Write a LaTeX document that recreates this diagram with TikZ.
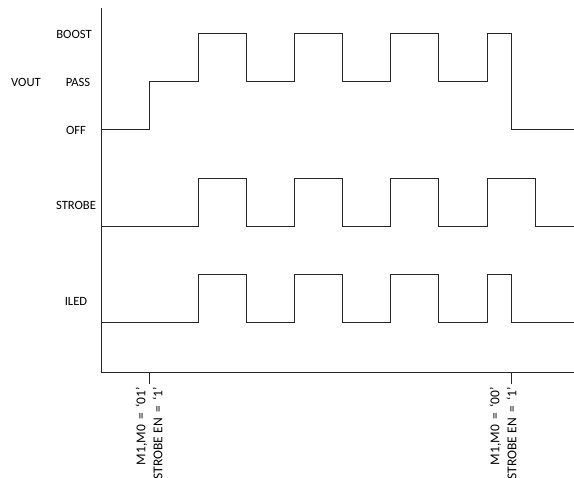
\documentclass[tikz,border=0pt]{standalone}
\usepackage{fontspec}
\setmainfont{Carlito}
\begin{document}
\begin{tikzpicture}[x=1pt,y=-1pt,
  lbl/.style={font=\fontsize{12.6}{14}\selectfont, inner sep=0pt},
  rlbl/.style={font=\fontsize{13.5}{17}\selectfont, inner sep=0pt, rotate=90, anchor=east, align=right},
  wave/.style={line width=1pt, black!85},
  axis/.style={line width=1pt, black!85}]
\useasboundingbox (0,0) rectangle (574,478);
% axes
\coordinate (top) at (101,8);
\coordinate (org) at (101,373);
\coordinate (xend) at (574,373);
\draw[axis] (top) -- (org) -- (xend);
\coordinate (t1a) at (149,373); \coordinate (t1b) at (149,384);
\coordinate (t2a) at (511,373); \coordinate (t2b) at (511,384);
\draw[axis] (t1a) -- (t1b);
\draw[axis] (t2a) -- (t2b);
% labels
\node[lbl] (vout) at (26,82) {VOUT};
\node[lbl] (boost) at (74,34) {BOOST};
\node[lbl] (pass) at (78,82) {PASS};
\node[lbl] (off) at (76,130) {OFF};
\node[lbl] (strobe) at (76,205) {STROBE};
\node[lbl] (iled) at (76,301) {ILED};
\node[rlbl] (ev1) at (149,387) {M1,M0 \,=\, ‘01’\\STROBE EN \,=\, ‘1’};
\node[rlbl] (ev2) at (503,387) {M1,M0 \,=\, ‘00’\\STROBE EN \,=\, ‘1’};
% VOUT
\draw[wave] (101,130) -- (149,130) -- (149,82) -- (198,82) -- (198,34) -- (246,34)
  -- (246,82) -- (294,82) -- (294,34) -- (342,34) -- (342,82) -- (390,82)
  -- (390,34) -- (438,34) -- (438,82) -- (487,82) -- (487,34) -- (511,34)
  -- (511,130) -- (574,130);
% STROBE
\draw[wave] (101,227) -- (198,227) -- (198,179) -- (246,179) -- (246,227) -- (294,227)
  -- (294,179) -- (342,179) -- (342,227) -- (390,227) -- (390,179) -- (438,179)
  -- (438,227) -- (487,227) -- (487,179) -- (535,179) -- (535,227) -- (574,227);
% ILED
\draw[wave] (101,323) -- (198,323) -- (198,275) -- (246,275) -- (246,323) -- (294,323)
  -- (294,275) -- (342,275) -- (342,323) -- (390,323) -- (390,275) -- (438,275)
  -- (438,323) -- (487,323) -- (487,275) -- (511,275) -- (511,323) -- (574,323);
\end{tikzpicture}
\end{document}
